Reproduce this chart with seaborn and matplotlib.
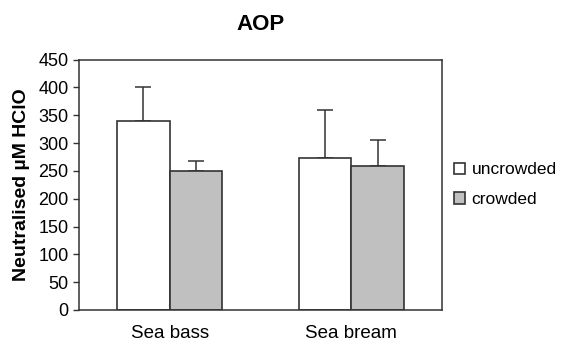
import pandas as pd
import seaborn as sns
import matplotlib.pyplot as plt

species = ['Sea bass', 'Sea bream']
conditions = ['uncrowded', 'crowded']
uncrowded_mean = [340, 273]
crowded_mean = [250, 259]
uncrowded_err = [60, 87]
crowded_err = [18, 47]
yticks = list(range(0, 451, 50))


def main():
    sns.set_style('white')
    plt.rcParams['font.family'] = ['Liberation Sans', 'DejaVu Sans']
    plt.rcParams['text.color'] = 'black'
    plt.rcParams['axes.labelcolor'] = 'black'
    plt.rcParams['xtick.color'] = 'black'
    plt.rcParams['ytick.color'] = 'black'

    df = pd.DataFrame({
        'species': species * 2,
        'condition': [conditions[0]] * 2 + [conditions[1]] * 2,
        'value': uncrowded_mean + crowded_mean,
    })
    errs = {conditions[0]: uncrowded_err, conditions[1]: crowded_err}

    fig = plt.figure(figsize=(5.63, 3.44), dpi=100)
    ax = fig.add_axes([79 / 563, 34 / 344, 363 / 563, 250.5 / 344])

    sns.barplot(data=df, x='species', y='value', hue='condition',
                order=species, hue_order=conditions,
                palette={'uncrowded': 'white', 'crowded': '#c0c0c0'},
                width=0.58, errorbar=None, edgecolor='#333333',
                linewidth=1.2, ax=ax, zorder=2)

    # upper-only error bars, drawn from the bar positions
    for cond, cont in zip(conditions, ax.containers):
        xs = [p.get_x() + p.get_width() / 2 for p in cont.patches]
        hs = [p.get_height() for p in cont.patches]
        e = errs[cond]
        ax.errorbar(xs, hs, yerr=[[0] * len(e), e], fmt='none',
                    ecolor='#333333', elinewidth=1.1, capsize=5.5,
                    capthick=1.1, zorder=1)

    ax.set_xlim(-0.5, 1.5)
    ax.set_ylim(0, 450)
    ax.set_yticks(yticks)
    ax.tick_params(axis='y', direction='out', length=4.5, width=1,
                   color='#333333', labelsize=13, pad=3, left=True)
    ax.tick_params(axis='x', length=0, labelsize=13.5, pad=11)
    for s in ax.spines.values():
        s.set_color('#333333')
        s.set_linewidth(1.1)
    ax.set_xlabel('')
    ax.set_ylabel('Neutralised µM HClO', fontsize=14, fontweight='bold',
                  labelpad=6)
    ax.set_title('AOP', fontsize=16, fontweight='bold', pad=21)

    ax.legend(loc='center left', bbox_to_anchor=(1.01, 0.50), frameon=False,
              fontsize=12.5, handlelength=0.6, handleheight=0.6,
              handletextpad=0.4, labelspacing=0.85, borderpad=0)

    fig.savefig('out.png', dpi=100)


if __name__ == '__main__':
    main()
